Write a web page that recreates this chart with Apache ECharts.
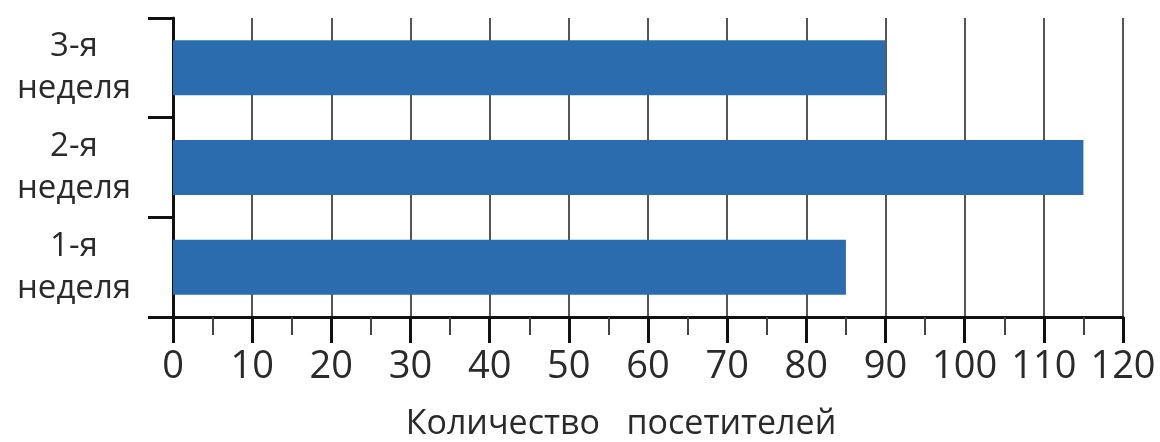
<!DOCTYPE html>
<html>
<head>
<meta charset="utf-8">
<script src="https://cdn.jsdelivr.net/npm/echarts@6/dist/echarts.min.js"></script>
<style>
html,body{margin:0;padding:0;background:#fff;}
#chart{width:1160px;height:442px;}
</style>
</head>
<body>
<div id="chart"></div>
<script>
const categories = ['1-я\nнеделя', '2-я\nнеделя', '3-я\nнеделя'];
const visitors = [85, 115, 90];
const xAxisTitle = 'Количество   посетителей';

const chart = echarts.init(document.getElementById('chart'), null, {renderer: 'canvas'});
chart.setOption({
  backgroundColor: '#ffffff',
  animation: false,
  grid: {left: 173, right: 37, top: 18, bottom: 125, containLabel: false, outerBoundsMode: 'none'},
  xAxis: {
    type: 'value',
    min: 0, max: 120, interval: 10,
    name: xAxisTitle,
    nameLocation: 'middle',
    nameGap: 90,
    nameTextStyle: {fontFamily: 'Open Sans', fontSize: 34, color: '#2a2a2a', verticalAlign: 'top', padding: [0, 54, 0, 0]},
    axisLine: {show: true, onZero: false, lineStyle: {color: '#111', width: 3}},
    axisTick: {show: true, length: 26, lineStyle: {color: '#111', width: 3}},
    minorTick: {show: true, splitNumber: 2, length: 18, lineStyle: {color: '#444', width: 2}},
    axisLabel: {fontFamily: 'Open Sans', fontSize: 38, color: '#2a2a2a', margin: 31},
    splitLine: {show: true, lineStyle: {color: '#555', width: 2}}
  },
  yAxis: {
    type: 'category',
    data: categories,
    axisLine: {show: true, lineStyle: {color: '#111', width: 3}},
    axisTick: {show: true, length: 25, lineStyle: {color: '#111', width: 3}},
    axisLabel: {fontFamily: 'Open Sans', fontSize: 33, color: '#2a2a2a', align: 'center', margin: 99, lineHeight: 42, padding: [9, 0, 0, 0]},
    splitLine: {show: false}
  },
  series: [{
    type: 'bar',
    data: visitors,
    barWidth: 55,
    itemStyle: {color: '#2b6cae'},
    z: 3
  }]
});
</script>
</body>
</html>
